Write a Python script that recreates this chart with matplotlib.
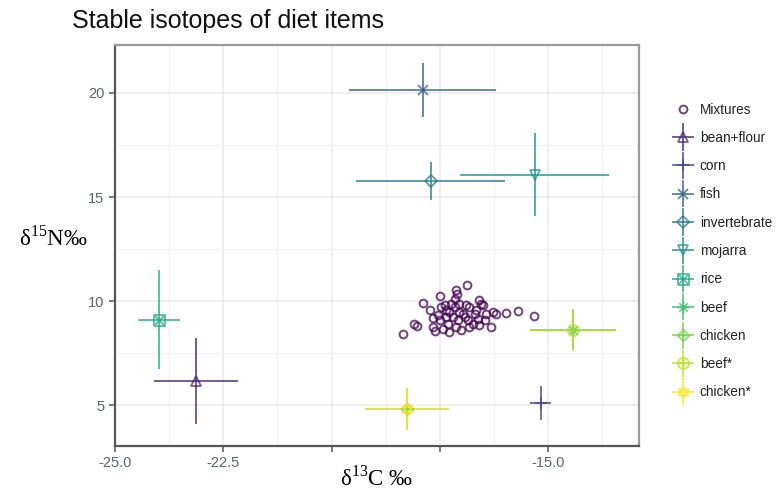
import numpy as np
import matplotlib
matplotlib.use("Agg")
import matplotlib.pyplot as plt
from matplotlib.path import Path
from matplotlib.container import ErrorbarContainer
from matplotlib.legend_handler import HandlerErrorbar

plt.rcParams["font.family"] = ["Liberation Sans", "DejaVu Sans"]
plt.rcParams["mathtext.fontset"] = "custom"
plt.rcParams["mathtext.rm"] = "Liberation Serif"

# --- data ---
# mixtures (d13C, d15N)
mix_c = [-18.36, -18.10, -18.02, -17.89, -17.66, -17.62, -17.49, -17.14, -17.11, -16.88,
         -17.39, -17.28, -17.20, -17.05, -16.97, -17.31, -17.43, -17.12, -17.01, -16.85,
         -16.74, -16.59, -16.55, -16.51, -16.43, -16.28, -16.32, -16.59, -16.20, -15.97,
         -15.70, -15.32, -17.74, -17.54, -17.35, -17.24, -17.16, -17.08, -16.93, -16.82,
         -16.70, -16.62, -17.51, -17.66, -17.28, -16.89, -17.16, -16.66, -16.47, -17.05,
         -17.35, -17.47, -16.82]
mix_n = [8.41, 8.89, 8.80, 9.92, 9.21, 8.57, 10.26, 10.56, 10.34, 10.77,
         9.81, 9.49, 9.25, 9.89, 9.41, 8.93, 8.69, 8.77, 8.61, 9.09,
         8.93, 10.08, 9.89, 9.81, 9.41, 9.49, 8.77, 8.85, 9.41, 9.44,
         9.53, 9.29, 9.57, 9.33, 9.25, 9.89, 9.73, 9.09, 9.25, 9.73,
         9.41, 9.17, 9.09, 8.77, 8.53, 9.81, 10.13, 9.57, 9.09, 9.49,
         9.57, 9.73, 8.77]

# diet sources: mean and sd
sources = ["bean+flour", "corn", "fish", "invertebrate", "mojarra", "rice",
           "beef", "chicken", "beef*", "chicken*"]
mean_c = [-23.13, -15.17, -17.90, -17.71, -15.31, -23.98, -14.43, -18.25, -14.43, -18.25]
sd_c = [0.96, 0.24, 1.70, 1.72, 1.72, 0.48, 0.99, 0.97, 0.99, 0.97]
mean_n = [6.17, 5.13, 20.14, 15.78, 16.07, 9.12, 8.64, 4.84, 8.64, 4.84]
sd_n = [2.08, 0.82, 1.28, 0.90, 2.00, 2.39, 0.99, 1.00, 0.99, 1.00]


# --- markers like ggplot shapes 2..11 ---
def compound(*paths):
    return Path.make_compound_path(*paths)

plus = [Path([(-1, 0), (1, 0)]), Path([(0, -1), (0, 1)])]
square_cross = compound(Path([(-1, -1), (1, -1), (1, 1), (-1, 1), (-1, -1)]),
                        Path([(-1, -1), (1, 1)]), Path([(-1, 1), (1, -1)]))
asterisk = compound(*plus, Path([(-0.72, -0.72), (0.72, 0.72)]),
                    Path([(-0.72, 0.72), (0.72, -0.72)]))
diamond_plus = compound(Path([(0, 1), (1, 0), (0, -1), (-1, 0), (0, 1)]), *plus)
circle_plus = compound(Path.unit_circle(), *plus)
star_david = compound(Path([(0, 1), (0.866, -0.5), (-0.866, -0.5), (0, 1)]),
                      Path([(0, -1), (0.866, 0.5), (-0.866, 0.5), (0, -1)]))

shapes = ["^", "+", "x", "D", "v", square_cross, asterisk, diamond_plus, circle_plus, star_david]
sizes = [7.5, 9, 7, 6.5, 7.5, 8, 8.5, 8.5, 8, 8.5]
colors = plt.cm.viridis(np.linspace(0, 1, 11))

fig = plt.figure(figsize=(7.81, 4.93), dpi=100)
ax = fig.add_axes([0.1472, 0.0953, 0.6713, 0.8134])

ax.plot(mix_c, mix_n, linestyle="none", marker="o", markersize=5.6,
        markerfacecolor="none", markeredgecolor=colors[0], markeredgewidth=1.4,
        alpha=0.75, label="Mixtures", zorder=3)

for i, name in enumerate(sources):
    ax.errorbar([mean_c[i]], [mean_n[i]], xerr=[sd_c[i]], yerr=[sd_n[i]],
                linestyle="none", marker=shapes[i], color=colors[i + 1],
                markersize=sizes[i], markerfacecolor="none", markeredgewidth=1.3,
                elinewidth=1.4, capsize=0, alpha=0.75, label=name, zorder=4)

ax.set_xlim(-25, -12.9)
ax.set_ylim(3.05, 22.3)
ax.set_xticks([-25, -22.5, -20, -17.5, -15])
ax.set_xticklabels(["-25.0", "-22.5", "", "", "-15.0"])
ax.set_xticks([-23.75, -21.25, -18.75, -16.25, -13.75], minor=True)
ax.set_yticks([5, 10, 15, 20])
ax.set_yticks([7.5, 12.5, 17.5], minor=True)
ax.grid(True, which="major", color="#ebebeb", linewidth=1.1, zorder=0)
ax.grid(True, which="minor", color="#f2f2f2", linewidth=0.9, zorder=0)
ax.set_axisbelow(True)
ax.tick_params(which="major", direction="out", length=4.5, width=1.1, color="#555555",
               labelsize=10.5, labelcolor="#5b6470", pad=3)
ax.tick_params(which="minor", length=0)
for side in ["left", "bottom"]:
    ax.spines[side].set_color("#555555")
    ax.spines[side].set_linewidth(1.6)
for side in ["top", "right"]:
    ax.spines[side].set_color("#9a9a9a")
    ax.spines[side].set_linewidth(1.6)

fig.text(72 / 781, 1 - 28 / 493, "Stable isotopes of diet items", fontsize=18,
         ha="left", va="baseline", color="#111111")
fig.text(377 / 781, 1 - 478 / 493, r"δ$^{\mathrm{13}}$C ‰", fontsize=16.5,
         family="Liberation Serif", ha="center", va="center")
fig.text(53 / 781, 1 - 238 / 493, r"δ$^{\mathrm{15}}$N‰", fontsize=16.5,
         family="Liberation Serif", ha="center", va="center")

ax.legend(loc="center left", bbox_to_anchor=(659 / 781, 1 - 251 / 493),
          bbox_transform=fig.transFigure, frameon=False, fontsize=9.8,
          handlelength=1.7, handletextpad=0.4, labelspacing=1.05, numpoints=1,
          borderpad=0.4, labelcolor="#222222",
          handler_map={ErrorbarContainer: HandlerErrorbar(xerr_size=0.8, yerr_size=1.0)})

fig.savefig("out.png", dpi=100)
